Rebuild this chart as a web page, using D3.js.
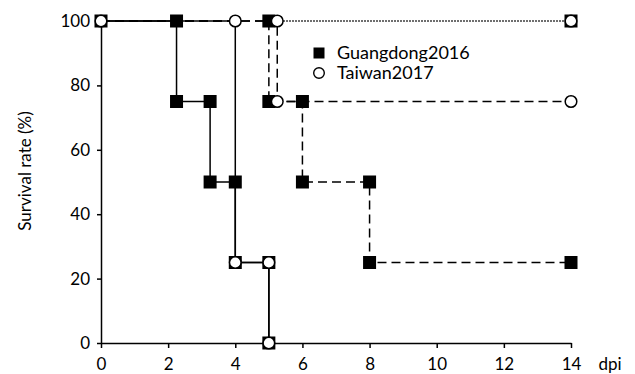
<!DOCTYPE html>
<html>
<head>
<meta charset="utf-8">
<script src="https://cdn.jsdelivr.net/npm/d3@7"></script>
<style>
  body { margin: 0; background: #fff; }
  svg text { font-family: Lato, "Open Sans", sans-serif; fill: #000; }
</style>
</head>
<body>
<svg id="chart" width="635" height="374"></svg>
<script>
"use strict";

// survival curves (x = dpi, y = survival %)
const gd_solid_x = [0, 2.25, 2.25, 3.25, 3.25, 4, 4, 5, 5];
const gd_solid_y = [100, 100, 75, 75, 50, 50, 25, 25, 0];
const tw_solid_x = [0, 4, 4, 5, 5];
const tw_solid_y = [100, 100, 25, 25, 0];
const gd_dash_x = [0, 5, 5, 6, 6, 8, 8, 14];
const gd_dash_y = [100, 100, 75, 75, 50, 50, 25, 25];
const tw_dash_x = [0, 5.25, 5.25, 14];
const tw_dash_y = [100, 100, 75, 75];
const ctrl_x = [5.25, 14];
const ctrl_y = [100, 100];

// where markers sit
const gd_marker_x = [0, 2.25, 2.25, 3.25, 3.25, 4, 4, 5, 5, 5, 5, 6, 6, 8, 8, 14, 14];
const gd_marker_y = [100, 100, 75, 75, 50, 50, 25, 25, 0, 100, 75, 75, 50, 50, 25, 25, 100];
const tw_marker_x = [0, 4, 4, 5, 5, 5.25, 5.25, 14, 14];
const tw_marker_y = [100, 100, 25, 25, 0, 100, 75, 75, 100];

const x_ticks = [0, 2, 4, 6, 8, 10, 12, 14];
const y_ticks = [0, 20, 40, 60, 80, 100];
const legend_labels = ["Guangdong2016", "Taiwan2017"];

const margin = {left: 101, top: 21};
const width = 470, height = 322;

const svg = d3.select("#chart");
const g = svg.append("g").attr("transform", `translate(${margin.left},${margin.top})`);

const xScale = d3.scaleLinear().domain([0, 14]).range([0, width]);
const yScale = d3.scaleLinear().domain([0, 100]).range([height, 0]);

function pts(xs, ys) {
    return xs.map((x, i) => [x, ys[i]]);
}

const line = d3.line().x(d => xScale(d[0])).y(d => yScale(d[1]));

// axes
const xAxis = g.append("g")
    .attr("transform", `translate(0,${height})`)
    .call(d3.axisBottom(xScale).tickValues(x_ticks).tickSize(5).tickSizeOuter(0).tickPadding(10));
const yAxis = g.append("g")
    .call(d3.axisLeft(yScale).tickValues(y_ticks).tickSize(4).tickSizeOuter(0).tickPadding(7));
[xAxis, yAxis].forEach(a => {
    a.selectAll("path, line").attr("stroke", "#000").attr("stroke-width", 1.5);
    a.selectAll("text").attr("font-size", 17).attr("font-family", "Lato, sans-serif");
});

g.append("text")
    .attr("x", width + 39)
    .attr("y", height + 15)
    .attr("dy", "0.71em")
    .attr("text-anchor", "middle")
    .attr("font-size", 17)
    .text("dpi");

svg.append("text")
    .attr("transform", `translate(31,${margin.top + 150}) rotate(-90)`)
    .attr("text-anchor", "middle")
    .attr("font-size", 17)
    .text("Survival rate (%)");

// lines
const series = [
    {d: pts(gd_solid_x, gd_solid_y), dash: null, w: 1.5},
    {d: pts(tw_solid_x, tw_solid_y), dash: null, w: 1.5},
    {d: pts(gd_dash_x, gd_dash_y), dash: "9,5", w: 1.5},
    {d: pts(tw_dash_x, tw_dash_y), dash: "9,5", w: 1.5},
    {d: pts(ctrl_x, ctrl_y), dash: "1.5,1.5", w: 1.3}
];
for (let s of series) {
    g.append("path")
        .attr("d", line(s.d))
        .attr("fill", "none")
        .attr("stroke", "#000")
        .attr("stroke-width", s.w)
        .attr("stroke-dasharray", s.dash);
}

// markers: squares under, circles over
const sq = 13;
g.selectAll("rect.gd")
    .data(pts(gd_marker_x, gd_marker_y))
    .join("rect")
    .attr("class", "gd")
    .attr("x", d => xScale(d[0]) - sq / 2)
    .attr("y", d => yScale(d[1]) - sq / 2)
    .attr("width", sq)
    .attr("height", sq)
    .attr("fill", "#000");

g.selectAll("circle.tw")
    .data(pts(tw_marker_x, tw_marker_y))
    .join("circle")
    .attr("class", "tw")
    .attr("cx", d => xScale(d[0]))
    .attr("cy", d => yScale(d[1]))
    .attr("r", 5.8)
    .attr("fill", "#fff")
    .attr("stroke", "#000")
    .attr("stroke-width", 1.5);

// legend
const legend = svg.append("g").attr("transform", "translate(319,53)");
legend.append("rect")
    .attr("x", -5.5).attr("y", -5.5).attr("width", 11).attr("height", 11)
    .attr("fill", "#000");
legend.append("circle")
    .attr("cx", 0).attr("cy", 20).attr("r", 5.3)
    .attr("fill", "#fff").attr("stroke", "#000").attr("stroke-width", 1.4);
legend.selectAll("text.lg")
    .data(legend_labels)
    .join("text")
    .attr("class", "lg")
    .attr("x", 18)
    .attr("y", (d, i) => i * 20)
    .attr("dy", "0.36em")
    .attr("font-size", 18)
    .text(d => d);
</script>
</body>
</html>
